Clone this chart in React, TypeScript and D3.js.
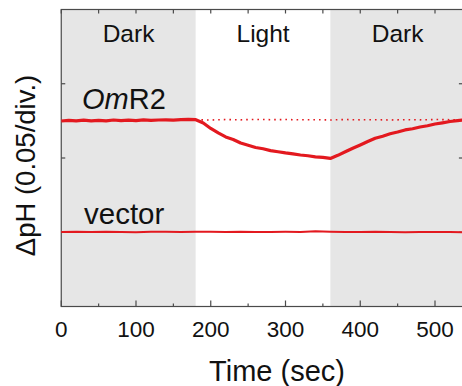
import React from 'react';
import * as d3 from 'd3';

// time axis (sec) and phase bands
const phases = [
  { label: 'Dark', start: 0, end: 180, shaded: true },
  { label: 'Light', start: 180, end: 360, shaded: false },
  { label: 'Dark', start: 360, end: 540, shaded: true },
];
const xMajorTicks = [0, 100, 200, 300, 400, 500];
const xMinorTicks = [50, 150, 250, 350, 450];
const yTicks = [0.05, 0.1, 0.15];

// OmR2 trace, every 10 s from 0 to 540
const omrTime = d3.range(0, 541, 10);
const omrValues = [
  0.1249, 0.1253, 0.1250, 0.1255, 0.1250, 0.1254, 0.1250, 0.1256, 0.1252, 0.1255,
  0.1252, 0.1257, 0.1254, 0.1256, 0.1257, 0.1255, 0.1259, 0.1260, 0.1258,
  0.1236, 0.1199, 0.1169, 0.1142, 0.1125, 0.1101, 0.1086, 0.1071, 0.1062, 0.1050,
  0.1042, 0.1034, 0.1028, 0.1020, 0.1015, 0.1008, 0.1004, 0.0997,
  0.1018, 0.1042, 0.1066, 0.1088, 0.1111, 0.1133, 0.1147, 0.1163, 0.1175,
  0.1189, 0.1197, 0.1209, 0.1217, 0.1229, 0.1237, 0.1246, 0.1252, 0.1258,
];

// OmR2 dark reference (dotted), every 20 s from 180 to 540
const refTime = d3.range(180, 541, 20);
const refValues = [
  0.1257, 0.1256, 0.1259, 0.1257, 0.1260, 0.1258, 0.1259, 0.1257, 0.1258, 0.1256,
  0.1259, 0.1257, 0.1258, 0.1256, 0.1258, 0.1257, 0.1259, 0.1258, 0.1257,
];

// vector trace, every 20 s from 0 to 540
const vecTime = d3.range(0, 541, 20);
const vecValues = [
  0.0502, 0.0504, 0.0501, 0.0503, 0.0502, 0.0500, 0.0503, 0.0504, 0.0502, 0.0503,
  0.0504, 0.0502, 0.0503, 0.0501, 0.0502, 0.0503, 0.0502, 0.0506, 0.0503, 0.0502,
  0.0501, 0.0503, 0.0502, 0.0500, 0.0502, 0.0501, 0.0502, 0.0500,
];

const W = 462;
const H = 386;
const margin = { left: 61.25, top: 9.5, right: 464.9, bottom: 306.5 };
const RED = '#e3191f';
const AXIS = '#4a4a4a';
const FONT = "Arial, 'Liberation Sans', sans-serif";

export default function App() {
  const x = d3.scaleLinear().domain([0, 540]).range([margin.left, margin.right]);
  const y = d3.scaleLinear().domain([0, 0.2]).range([margin.bottom, margin.top]);

  const line = d3.line<[number, number]>()
    .x(d => x(d[0]))
    .y(d => y(d[1]));

  const omr = omrTime.map((t, i) => [t, omrValues[i]] as [number, number]);
  const ref = refTime.map((t, i) => [t, refValues[i]] as [number, number]);
  const vec = vecTime.map((t, i) => [t, vecValues[i]] as [number, number]);

  return (
    <svg width={W} height={H} style={{ position: 'absolute', left: 0, top: 0, background: '#fff' }} fontFamily={FONT}>
      {phases.map((p, i) => (
        <rect key={i} x={x(p.start)} y={margin.top} width={x(p.end) - x(p.start)} height={margin.bottom - margin.top}
          fill={p.shaded ? '#e6e6e6' : '#fff'} />
      ))}
      {phases.map((p, i) => (
        <text key={'l' + i} x={x((p.start + p.end) / 2)} y={42} textAnchor="middle" fontSize={24.5} fill="#111">{p.label}</text>
      ))}

      {/* frame */}
      <rect x={margin.left} y={margin.top} width={margin.right - margin.left} height={margin.bottom - margin.top}
        fill="none" stroke={AXIS} strokeWidth={1.2} />
      {xMajorTicks.map(t => (
        <g key={'M' + t}>
          <line x1={x(t)} x2={x(t)} y1={margin.bottom} y2={margin.bottom - 6} stroke={AXIS} strokeWidth={1.2} />
          <line x1={x(t)} x2={x(t)} y1={margin.top} y2={margin.top + 4} stroke={AXIS} strokeWidth={1.2} />
          <text x={x(t)} y={337} textAnchor="middle" fontSize={22.5} fill="#111">{t}</text>
        </g>
      ))}
      {xMinorTicks.map(t => (
        <g key={'m' + t}>
          <line x1={x(t)} x2={x(t)} y1={margin.bottom} y2={margin.bottom - 3} stroke={AXIS} strokeWidth={1.2} />
          <line x1={x(t)} x2={x(t)} y1={margin.top} y2={margin.top + 4} stroke={AXIS} strokeWidth={1.2} />
        </g>
      ))}
      {yTicks.map(v => (
        <g key={'y' + v}>
          <line x1={margin.left} x2={margin.left + 4} y1={y(v)} y2={y(v)} stroke={AXIS} strokeWidth={1.2} />
          <line x1={margin.right} x2={margin.right - 6} y1={y(v)} y2={y(v)} stroke={AXIS} strokeWidth={1.2} />
        </g>
      ))}

      {/* traces */}
      <path d={line(ref) || ''} fill="none" stroke={RED} strokeWidth={1.6} strokeDasharray="1.6 4" />
      <path d={line(vec) || ''} fill="none" stroke={RED} strokeWidth={2} />
      <path d={line(omr) || ''} fill="none" stroke={RED} strokeWidth={3.2} strokeLinejoin="round" />

      <text x={82} y={108.5} fontSize={29} fill="#111">
        <tspan fontStyle="italic">Om</tspan>R2
      </text>
      <text x={84} y={223.5} fontSize={29.5} fill="#111">vector</text>

      <text transform="translate(35,165.5) rotate(-90)" textAnchor="middle" fontSize={27.5} fill="#111">ΔpH (0.05/div.)</text>
      <text x={277} y={381} textAnchor="middle" fontSize={29} fill="#111">Time (sec)</text>
    </svg>
  );
}
